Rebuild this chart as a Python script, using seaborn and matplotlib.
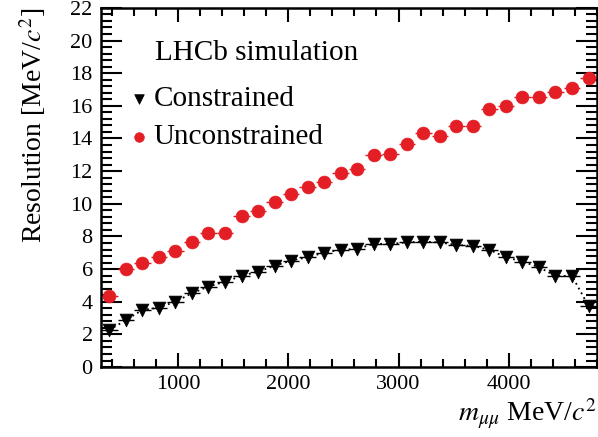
import numpy as np
import pandas as pd
import matplotlib
matplotlib.use("Agg")
import matplotlib.pyplot as plt
from matplotlib.ticker import MultipleLocator
import seaborn as sns

sns.set_theme(style="ticks")
plt.rcParams['font.family'] = ['Liberation Serif', 'DejaVu Serif']
plt.rcParams['mathtext.fontset'] = 'stix'
plt.rcParams['text.color'] = 'black'
plt.rcParams['axes.labelcolor'] = 'black'
plt.rcParams['xtick.color'] = 'black'
plt.rcParams['ytick.color'] = 'black'

# bin centres (MeV/c^2), 150 MeV bins
mass = [375, 525, 675, 825, 975, 1125, 1275, 1425, 1575, 1725,
        1875, 2025, 2175, 2325, 2475, 2625, 2775, 2925, 3075, 3225,
        3375, 3525, 3675, 3825, 3975, 4125, 4275, 4425, 4575, 4725]
half_bin = 75

unconstrained = [4.37, 5.99, 6.40, 6.73, 7.13, 7.67, 8.24, 8.24, 9.26, 9.53,
                 10.12, 10.61, 11.02, 11.31, 11.88, 12.13, 12.99, 13.07, 13.68, 14.34,
                 14.17, 14.74, 14.79, 15.81, 16.01, 16.52, 16.52, 16.87, 17.10, 17.71]
unconstrained_err = [0.12, 0.1, 0.1, 0.1, 0.1, 0.1, 0.1, 0.1, 0.1, 0.1,
                     0.1, 0.1, 0.1, 0.1, 0.1, 0.1, 0.1, 0.1, 0.1, 0.12,
                     0.12, 0.12, 0.12, 0.12, 0.12, 0.15, 0.15, 0.15, 0.15, 0.35]

constrained = [2.27, 2.88, 3.50, 3.64, 4.01, 4.52, 4.93, 5.23, 5.58, 5.85,
               6.20, 6.52, 6.73, 7.01, 7.18, 7.24, 7.55, 7.55, 7.63, 7.69,
               7.63, 7.48, 7.42, 7.18, 6.73, 6.46, 6.12, 5.58, 5.58, 3.74]
constrained_err = [0.08] * 29 + [0.2]

red = '#e41e25'

df = pd.DataFrame({"mass": mass, "Constrained": constrained,
                   "Unconstrained": unconstrained})

fig = plt.figure(figsize=(5.98, 4.37), dpi=100)
ax = fig.add_axes([0.169, 0.160, 0.829, 0.822])

# dotted line through the constrained points
sns.lineplot(data=df, x="mass", y="Constrained", ax=ax, color='black',
             linestyle=(0, (1, 2)), linewidth=1.3, legend=False)

# horizontal (bin) and vertical error bars
ax.errorbar(mass, constrained, xerr=half_bin, yerr=constrained_err, fmt='none',
            ecolor='black', elinewidth=1.0, capsize=0)
ax.errorbar(mass, unconstrained, xerr=half_bin, yerr=unconstrained_err, fmt='none',
            ecolor=red, elinewidth=1.0, capsize=0)

sns.scatterplot(data=df, x="mass", y="Constrained", ax=ax, marker='v',
                color='black', s=85, edgecolor='black', linewidth=0.5,
                label="Constrained", zorder=5)
sns.scatterplot(data=df, x="mass", y="Unconstrained", ax=ax, marker='o',
                color=red, s=85, edgecolor=red, linewidth=0.5,
                label="Unconstrained", zorder=5)

ax.set_xlim(300, 4800)
ax.set_ylim(0, 22)
ax.xaxis.set_major_locator(MultipleLocator(1000))
ax.xaxis.set_minor_locator(MultipleLocator(200))
ax.yaxis.set_major_locator(MultipleLocator(2))
ax.yaxis.set_minor_locator(MultipleLocator(0.4))

ax.tick_params(which='both', direction='in', top=True, right=True,
               labelsize=16, width=1.5, colors='black', pad=6)
ax.tick_params(axis='x', which='major', length=10)
ax.tick_params(axis='x', which='minor', length=6)
ax.tick_params(axis='y', which='major', length=15)
ax.tick_params(axis='y', which='minor', length=8)
for sp in ax.spines.values():
    sp.set_linewidth(1.8)
    sp.set_color('black')

ax.set_xlabel(r"$m_{\mu\mu}$ MeV/$c^2$", fontsize=20, loc='right', labelpad=2)
ax.set_ylabel(r"Resolution [MeV/$c^2$]", fontsize=20, loc='top', labelpad=16)

ax.text(0.109, 0.875, "LHCb simulation", transform=ax.transAxes,
        fontsize=21, va='center', ha='left')
leg = ax.legend(loc='upper left', bbox_to_anchor=(0.035, 0.815), frameon=False,
                fontsize=21, handlelength=0.6, handletextpad=0.2,
                markerscale=0.75, labelspacing=0.4, borderaxespad=0)
for t in leg.get_texts():
    t.set_color('black')

fig.savefig("out.png", dpi=100)
